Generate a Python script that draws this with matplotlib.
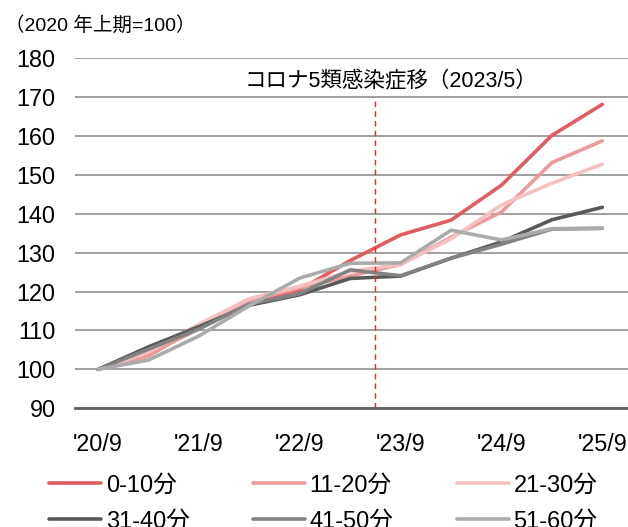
import matplotlib
matplotlib.use("Agg")
import matplotlib.pyplot as plt

plt.rcParams['font.family'] = ['Liberation Sans', 'Noto Sans CJK JP', 'DejaVu Sans']

# half-year points, '20/9 .. '25/9
periods = ["20/9", "21/3", "21/9", "22/3", "22/9", "23/3", "23/9", "24/3", "24/9", "25/3", "25/9"]
tick_labels = ["'20/9", "'21/9", "'22/9", "'23/9", "'24/9", "'25/9"]

labels = ["0-10分", "11-20分", "21-30分", "31-40分", "41-50分", "51-60分"]
min_0_10 = [100, 104.0, 110.5, 117.2, 120.5, 128.0, 134.6, 138.4, 147.4, 160.2, 168.2]
min_11_20 = [100, 103.4, 111.0, 117.6, 121.0, 124.0, 127.0, 134.0, 140.5, 153.2, 158.8]
min_21_30 = [100, 104.4, 111.6, 118.2, 121.4, 125.2, 127.0, 133.6, 142.3, 147.9, 152.8]
min_31_40 = [100, 105.8, 111.0, 116.5, 119.2, 123.4, 124.0, 128.6, 132.8, 138.5, 141.7]
min_41_50 = [100, 105.2, 110.4, 116.8, 119.5, 125.6, 124.1, 128.6, 132.2, 136.1, 136.3]
min_51_60 = [100, 102.4, 108.6, 116.4, 123.5, 127.3, 127.4, 135.8, 133.3, 136.2, 136.3]
series = [min_0_10, min_11_20, min_21_30, min_31_40, min_41_50, min_51_60]
colors = ["#e05c60", "#eb9b9b", "#f4c1c1", "#595959", "#828282", "#ababab"]

event_pos = 5.5  # 2023/5
event_text = "コロナ5類感染症移（2023/5）"
unit_text = "（2020 年上期=100）"

fig = plt.figure(figsize=(6.28, 5.27), dpi=100)
ax = fig.add_axes([0.1194, 0.2254, 0.8806, 0.6636])

x = list(range(len(periods)))
lines = []
for vals, lab, col in zip(series, labels, colors):
    ln, = ax.plot(x, vals, color=col, lw=2.6, label=lab, solid_capstyle='round')
    lines.append(ln)

ax.axvline(event_pos, ymin=0, ymax=8 / 9, color="#ff2020", lw=1, ls=(0, (4, 3)))
ax.text(event_pos + 0.3, 174, event_text, ha='center', va='center', fontsize=15.5)

ax.set_ylim(90, 180)
ax.set_xlim(-0.46, 10.51)
ax.set_yticks(range(90, 181, 10))
ax.set_xticks(range(0, 11, 2))
ax.set_xticklabels(tick_labels)
ax.tick_params(axis='both', length=0, labelsize=16.8)
ax.tick_params(axis='y', pad=14)
ax.tick_params(axis='x', pad=18)
ax.grid(axis='y', color='#8f8f8f', lw=1.2)
ax.set_axisbelow(True)
for side in ['top', 'right', 'left']:
    ax.spines[side].set_visible(False)
ax.spines['bottom'].set_color('#606060')
ax.spines['bottom'].set_linewidth(2)

fig.text(0.008, 0.951, unit_text, fontsize=14, va='center', ha='left')

# legend fills column by column, so reorder to read row by row
order = [0, 3, 1, 4, 2, 5]
fig.legend([lines[i] for i in order], [labels[i] for i in order],
           loc='upper left', bbox_to_anchor=(0.078, 0.1), ncol=3, frameon=False,
           fontsize=17, handlelength=2.2, handletextpad=0.21, columnspacing=2.67,
           labelspacing=0.6, borderaxespad=0, borderpad=0)

fig.savefig("out.png", dpi=100)
